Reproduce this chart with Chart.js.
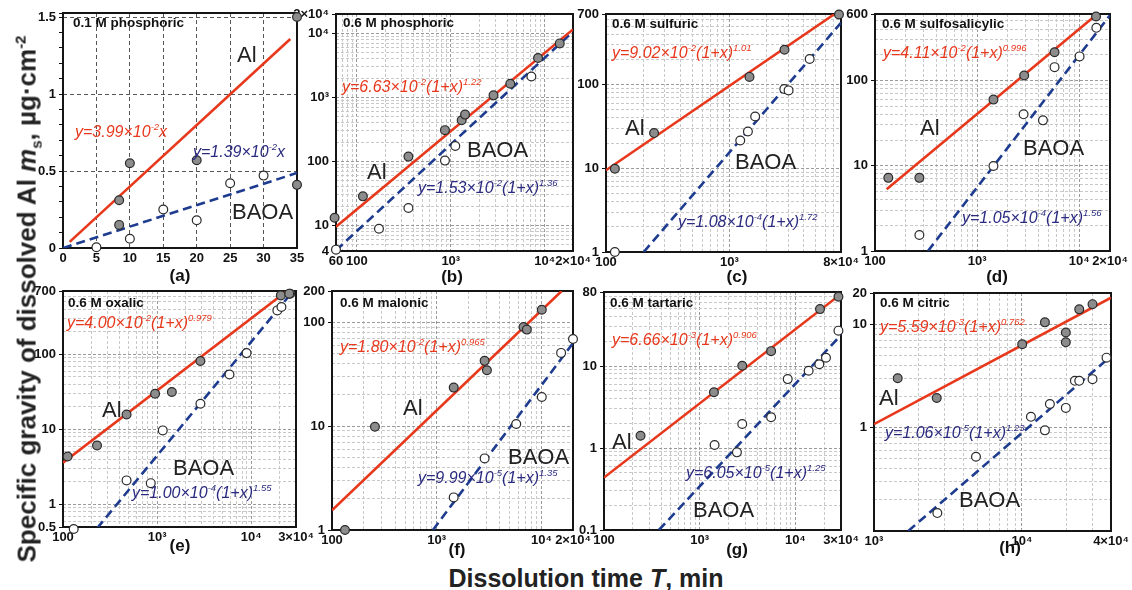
<!DOCTYPE html>
<html>
<head>
<meta charset="utf-8">
<script src="https://cdn.jsdelivr.net/npm/chart.js@4.4.1/dist/chart.umd.min.js"></script>
<style>
  body { margin: 0; background: #fff; width: 1132px; height: 590px; overflow: hidden; position: relative;
         font-family: "Liberation Sans", Arial, sans-serif; }
  canvas.p { position: absolute; }
  .t { position: absolute; white-space: nowrap; line-height: 1; color: #111; }
  .ttl { font-weight: bold; font-size: 13.5px; }
  .big { font-size: 22px; color: #222; }
  .eq { font-style: italic; font-size: 16px; }
  .eq sup { font-size: 9.5px; vertical-align: 0; position: relative; top: -7px; }
  .red { color: #e8381c; }
  .blue { color: #2a2a80; }
  .lab { font-weight: bold; font-size: 17px; transform: translate(-50%, -50%); }
  .axt { font-weight: bold; font-size: 25px; color: #222; }
  .axt sub { font-size: 15px; }
  .axt sup { font-size: 15px; }
</style>
</head>
<body>

<div class="t axt" style="left:586px;top:578px;transform:translate(-50%,-50%)">Dissolution time <i>T</i>, min</div>
<div class="t axt" style="left:28px;top:299px;font-size:26px;transform:translate(-50%,-50%) rotate(-90deg)">Specific gravity of dissolved Al <i>m</i><sub>s</sub>, µg·cm<sup>-2</sup></div>

<!-- (a) -->
<div class="t ttl" style="left:73px;top:16px">0.1 M phosphoric</div>
<div class="t big" style="left:237px;top:44px">Al</div>
<div class="t eq red" style="left:75px;top:124px">y=3.99×10<sup>-2</sup>x</div>
<div class="t eq blue" style="left:193px;top:144px">y=1.39×10<sup>-2</sup>x</div>
<div class="t big" style="left:232px;top:201px">BAOA</div>
<div class="t lab" style="left:180px;top:275px">(a)</div>
<!-- (b) -->
<div class="t ttl" style="left:343px;top:16px">0.6 M phosphoric</div>
<div class="t eq red" style="left:342px;top:79px">y=6.63×10<sup>-2</sup>(1+x)<sup>1.22</sup></div>
<div class="t big" style="left:367px;top:161px">Al</div>
<div class="t big" style="left:467px;top:139px">BAOA</div>
<div class="t eq blue" style="left:418px;top:180px">y=1.53×10<sup>-2</sup>(1+x)<sup>1.36</sup></div>
<div class="t lab" style="left:452px;top:276px">(b)</div>
<!-- (c) -->
<div class="t ttl" style="left:612px;top:17px">0.6 M sulfuric</div>
<div class="t eq red" style="left:612px;top:45px">y=9.02×10<sup>-2</sup>(1+x)<sup>1.01</sup></div>
<div class="t big" style="left:625px;top:117px">Al</div>
<div class="t big" style="left:735px;top:151px">BAOA</div>
<div class="t eq blue" style="left:678px;top:214px">y=1.08×10<sup>-4</sup>(1+x)<sup>1.72</sup></div>
<div class="t lab" style="left:737px;top:276px">(c)</div>
<!-- (d) -->
<div class="t ttl" style="left:882px;top:17px">0.6 M sulfosalicylic</div>
<div class="t eq red" style="left:883px;top:45px">y=4.11×10<sup>-2</sup>(1+x)<sup>0.996</sup></div>
<div class="t big" style="left:920px;top:117px">Al</div>
<div class="t big" style="left:1023px;top:137px">BAOA</div>
<div class="t eq blue" style="left:962px;top:210px">y=1.05×10<sup>-4</sup>(1+x)<sup>1.56</sup></div>
<div class="t lab" style="left:997px;top:276px">(d)</div>
<!-- (e) -->
<div class="t ttl" style="left:68px;top:296px">0.6 M oxalic</div>
<div class="t eq red" style="left:67px;top:315px">y=4.00×10<sup>-2</sup>(1+x)<sup>0.979</sup></div>
<div class="t big" style="left:102px;top:399px">Al</div>
<div class="t big" style="left:173px;top:457px">BAOA</div>
<div class="t eq blue" style="left:132px;top:485px">y=1.00×10<sup>-4</sup>(1+x)<sup>1.55</sup></div>
<div class="t lab" style="left:180px;top:545px">(e)</div>
<!-- (f) -->
<div class="t ttl" style="left:340px;top:296px">0.6 M malonic</div>
<div class="t eq red" style="left:340px;top:339px">y=1.80×10<sup>-2</sup>(1+x)<sup>0.965</sup></div>
<div class="t big" style="left:403px;top:397px">Al</div>
<div class="t big" style="left:508px;top:446px">BAOA</div>
<div class="t eq blue" style="left:418px;top:470px">y=9.99×10<sup>-5</sup>(1+x)<sup>1.35</sup></div>
<div class="t lab" style="left:457px;top:549px">(f)</div>
<!-- (g) -->
<div class="t ttl" style="left:610px;top:296px">0.6 M tartaric</div>
<div class="t eq red" style="left:612px;top:332px">y=6.66×10<sup>-3</sup>(1+x)<sup>0.906</sup></div>
<div class="t big" style="left:612px;top:431px">Al</div>
<div class="t big" style="left:693px;top:499px">BAOA</div>
<div class="t eq blue" style="left:686px;top:465px">y=6.05×10<sup>-5</sup>(1+x)<sup>1.25</sup></div>
<div class="t lab" style="left:737px;top:549px">(g)</div>
<!-- (h) -->
<div class="t ttl" style="left:880px;top:296px">0.6 M citric</div>
<div class="t eq red" style="left:880px;top:319px">y=5.59×10<sup>-3</sup>(1+x)<sup>0.762</sup></div>
<div class="t big" style="left:879px;top:387px">Al</div>
<div class="t big" style="left:959px;top:489px">BAOA</div>
<div class="t eq blue" style="left:885px;top:425px">y=1.06×10<sup>-5</sup>(1+x)<sup>1.23</sup></div>
<div class="t lab" style="left:1010px;top:547px">(h)</div>

<script>
// ---- values: [time, mass] pairs ----
// (a) 0.1 M phosphoric (linear axes)
const alA = [[8.4, 0.15], [8.4, 0.31], [10, 0.55], [20, 0.57], [35, 0.41], [35, 1.5]];
const baoaA = [[5, 0.005], [10, 0.06], [15, 0.25], [20, 0.18], [25, 0.42], [30, 0.47]];
const alFitA = [[1, 0.04], [34, 1.357]];
const baoaFitA = [[0, 0], [35, 0.487]];
// (b) 0.6 M phosphoric
const alB = [[58, 13.2], [116, 28.5], [354, 119], [867, 308], [1306, 440], [1419, 538],
             [2850, 1074], [4300, 1630], [8490, 4120], [14450, 6950]];
const baoaB = [[60, 4.2], [172, 8.9], [354, 18.8], [867, 103], [1117, 174], [7210, 2120]];
const alFitB = [[60, 9.6], [20000, 11500]];
const baoaFitB = [[60, 4.1], [20000, 10600]];
// (c) 0.6 M sulfuric
const alC = [[118, 9.9], [245, 26.4], [1452, 124], [2790, 262], [7700, 690]];
const baoaC = [[118, 1.0], [1222, 21.5], [1410, 27.6], [1614, 41.7], [2780, 88.8], [3010, 85.5], [4460, 203]];
const alFitC = [[100, 9.5], [7100, 700]];
const baoaFitC = [[202, 1], [8000, 550]];
// (d) 0.6 M sulfosalicylic
const alD = [[135, 7.2], [272, 7.2], [1445, 59.5], [2890, 114], [5730, 214], [14600, 560]];
const baoaD = [[272, 1.54], [1445, 9.9], [2850, 40], [4410, 34], [5730, 143], [10070, 191], [14700, 413]];
const alFitD = [[130, 5.3], [15000, 600]];
const baoaFitD = [[330, 1], [20000, 580]];
// (e) 0.6 M oxalic
const alE = [[112, 4.36], [230, 6.1], [474, 15.8], [953, 29.9], [1436, 31.5], [2890, 81.5], [20700, 612], [25400, 645]];
const baoaE = [[130, 0.47], [474, 2.09], [857, 1.92], [1150, 9.7], [2890, 22], [5890, 54], [8950, 104],
               [19000, 386], [21000, 428], [26000, 645]];
const alFitE = [[100, 3.6], [24000, 700]];
const baoaFitE = [[230, 0.48], [28000, 700]];
// (f) 0.6 M malonic
const alF = [[133, 1.0], [257, 9.85], [1452, 23.5], [2865, 42.5], [3015, 34.5], [6740, 90], [7250, 85], [10070, 132]];
const baoaF = [[1452, 2.06], [2865, 4.89], [5740, 10.5], [10070, 19.1], [15400, 50.7], [20000, 69]];
const alFitF = [[100, 1.55], [15600, 200]];
const baoaFitF = [[920, 1], [20000, 63]];
// (g) 0.6 M tartaric
const alG = [[241, 1.41], [1410, 4.78], [2785, 10.1], [5580, 15.2], [18100, 49.5], [28200, 70]];
const baoaG = [[1432, 1.09], [2450, 0.885], [2785, 1.96], [5580, 2.37], [8320, 6.93], [13770, 8.77],
               [17800, 10.5], [20900, 12.6], [28200, 27]];
const alFitG = [[100, 0.436], [30000, 75.8]];
const baoaFitG = [[375, 0.1], [30000, 23.9]];
// (h) 0.6 M citric
const alH = [[1446, 3.0], [2655, 1.93], [10040, 6.38], [14300, 10.4], [19800, 8.3], [19800, 6.67], [24400, 13.9], [30000, 15.6]];
const baoaH = [[2680, 0.149], [4890, 0.523], [11500, 1.27], [14300, 0.94], [15450, 1.69], [19800, 1.55],
               [22800, 2.83], [24400, 2.83], [30000, 2.94], [37300, 4.74]];
const alFitH = [[1000, 1.08], [40000, 18]];
const baoaFitH = [[1704, 0.1], [40000, 4.9]];

// ---- tick labels ----
const xTicksA = [0, 5, 10, 15, 20, 25, 30, 35];
const xLabelsA = ['0', '5', '10', '15', '20', '25', '30', '35'];
const yTicksA = [0, 0.5, 1, 1.5];
const yLabelsA = ['0', '0.5', '1', '1.5'];
const xTicksB = [60, 100, 1e3, 1e4, 2e4];
const xLabelsB = ['60', '100', '10³', '10⁴', '2×10⁴'];
const yTicksB = [4, 10, 100, 1e3, 1e4, 2e4];
const yLabelsB = ['4', '10', '100', '10³', '10⁴', '2×10⁴'];
const xTicksC = [100, 1e3, 8e3];
const xLabelsC = ['100', '10³', '8×10⁴'];
const yTicksC = [1, 10, 100, 700];
const yLabelsC = ['1', '10', '100', '700'];
const xTicksD = [100, 1e3, 1e4, 2e4];
const xLabelsD = ['100', '10³', '10⁴', '2×10⁴'];
const yTicksD = [1, 10, 100, 600];
const yLabelsD = ['1', '10', '100', '600'];
const xTicksE = [100, 1e3, 1e4, 3e4];
const xLabelsE = ['100', '10³', '10⁴', '3×10⁴'];
const yTicksE = [0.5, 1, 10, 100, 700];
const yLabelsE = ['0.5', '1', '10', '100', '700'];
const xTicksF = [100, 1e3, 1e4, 2e4];
const xLabelsF = ['100', '10³', '10⁴', '2×10⁴'];
const yTicksF = [1, 10, 100, 200];
const yLabelsF = ['1', '10', '100', '200'];
const xTicksG = [100, 1e3, 1e4, 3e4];
const xLabelsG = ['100', '10³', '10⁴', '3×10⁴'];
const yTicksG = [0.1, 1, 10, 80];
const yLabelsG = ['0.1', '1', '10', '80'];
const xTicksH = [1e3, 1e4, 4e4];
const xLabelsH = ['10³', '10⁴', '4×10⁴'];
const yTicksH = [1, 10, 20];
const yLabelsH = ['1', '10', '20'];

const RED = '#e8381c';
const BLUE = '#1d3b8f';
const FONT = '"Liberation Sans", Arial, sans-serif';
const ML = 46, MT = 12, MR = 28, MB = 22;

// plot-area rectangles on the page and axis ranges
const panels = [
  { l: 63, t: 13, r: 297, b: 248, log: false, xr: [0, 35], yr: [0, 1.526],
    al: alA, baoa: baoaA, alFit: alFitA, baoaFit: baoaFitA, xt: xTicksA, xl: xLabelsA, yt: yTicksA, yl: yLabelsA },
  { l: 336, t: 14, r: 573, b: 251, log: true, xr: [60, 2e4], yr: [4, 2e4],
    al: alB, baoa: baoaB, alFit: alFitB, baoaFit: baoaFitB, xt: xTicksB, xl: xLabelsB, yt: yTicksB, yl: yLabelsB },
  { l: 606, t: 14, r: 841, b: 252, log: true, xr: [100, 8e3], yr: [1, 700],
    al: alC, baoa: baoaC, alFit: alFitC, baoaFit: baoaFitC, xt: xTicksC, xl: xLabelsC, yt: yTicksC, yl: yLabelsC },
  { l: 875, t: 14, r: 1110, b: 251, log: true, xr: [100, 2e4], yr: [1, 600],
    al: alD, baoa: baoaD, alFit: alFitD, baoaFit: baoaFitD, xt: xTicksD, xl: xLabelsD, yt: yTicksD, yl: yLabelsD },
  { l: 63, t: 291, r: 296, b: 527, log: true, xr: [100, 3e4], yr: [0.5, 700],
    al: alE, baoa: baoaE, alFit: alFitE, baoaFit: baoaFitE, xt: xTicksE, xl: xLabelsE, yt: yTicksE, yl: yLabelsE },
  { l: 332, t: 291, r: 573, b: 530, log: true, xr: [100, 2e4], yr: [1, 200],
    al: alF, baoa: baoaF, alFit: alFitF, baoaFit: baoaFitF, xt: xTicksF, xl: xLabelsF, yt: yTicksF, yl: yLabelsF },
  { l: 604, t: 292, r: 841, b: 530, log: true, xr: [100, 3e4], yr: [0.1, 80],
    al: alG, baoa: baoaG, alFit: alFitG, baoaFit: baoaFitG, xt: xTicksG, xl: xLabelsG, yt: yTicksG, yl: yLabelsG },
  { l: 874, t: 293, r: 1111, b: 531, log: true, xr: [1e3, 4e4], yr: [0.1, 20],
    al: alH, baoa: baoaH, alFit: alFitH, baoaFit: baoaFitH, xt: xTicksH, xl: xLabelsH, yt: yTicksH, yl: yLabelsH }
];

const same = (a, b) => Math.abs(a - b) <= 1e-9 * Math.max(1, Math.abs(b));

// grid positions: 1..9 per decade for log axes, fixed steps for the linear panel
function gridValues(min, max, log, step) {
  const vals = [];
  if (log) {
    for (let e = Math.floor(Math.log10(min)); e <= Math.ceil(Math.log10(max)); e++) {
      for (let k = 1; k <= 9; k++) {
        const v = parseFloat((k * Math.pow(10, e)).toPrecision(6));
        if (v > min * 1.0001 && v < max * 0.9999) vals.push(v);
      }
    }
  } else {
    for (let v = min; v <= max + 1e-9; v += step) vals.push(Math.round(v * 100) / 100);
  }
  vals.unshift(min);
  if (!same(vals[vals.length - 1], max)) vals.push(max);
  return [...new Set(vals)];
}

function isDecade(v) {
  const e = Math.log10(v);
  return Math.abs(e - Math.round(e)) < 1e-9;
}

function axis(p, isX) {
  const [min, max] = isX ? p.xr : p.yr;
  const tv = isX ? p.xt : p.yt;
  const tl = isX ? p.xl : p.yl;
  const grid = gridValues(min, max, p.log, isX ? 5 : 0.1);
  const labelOf = v => {
    const i = tv.findIndex(t => same(v, t));
    return i >= 0 ? tl[i] : '';
  };
  return {
    type: p.log ? 'logarithmic' : 'linear',
    min, max,
    afterBuildTicks: s => { s.ticks = grid.map(v => ({ value: v })); },
    afterFit: s => { if (isX) s.height = MB; else s.width = ML; },
    ticks: {
      autoSkip: false, maxRotation: 0, minRotation: 0, padding: 3,
      color: '#111', font: { family: FONT, size: 13, weight: 'bold' },
      callback: v => labelOf(v)
    },
    grid: {
      drawTicks: !isX,
      tickLength: 4,
      lineWidth: 1,
      color: c => {
        const v = c.tick.value;
        if (same(v, min) || same(v, max)) return 'rgba(0,0,0,0)';
        if (!p.log) {
          if (!isX && Math.abs(v / 0.5 - Math.round(v / 0.5)) > 1e-6) return 'rgba(0,0,0,0)';
          return '#555';
        }
        return isDecade(v) ? '#9a9a9a' : '#c9c9c9';
      },
      tickColor: c => {
        const v = c.tick.value;
        if (!p.log) return '#111';
        return labelOf(v) ? '#111' : 'rgba(0,0,0,0)';
      }
    },
    border: { display: false, dash: p.log ? [3, 2] : [4, 3] }
  };
}

const framePlugin = {
  id: 'frame',
  beforeDatasetsDraw(chart) {
    const { ctx, chartArea: a } = chart;
    ctx.save();
    ctx.strokeStyle = '#151515';
    ctx.lineWidth = 2;
    ctx.strokeRect(a.left, a.top, a.right - a.left, a.bottom - a.top);
    ctx.restore();
  }
};

const toXY = arr => arr.map(([x, y]) => ({ x, y }));

panels.forEach(p => {
  const cv = document.createElement('canvas');
  const w = p.r - p.l + ML + MR, h = p.b - p.t + MT + MB;
  cv.className = 'p';
  cv.width = w; cv.height = h;
  cv.style.left = (p.l - ML) + 'px';
  cv.style.top = (p.t - MT) + 'px';
  cv.style.width = w + 'px';
  cv.style.height = h + 'px';
  document.body.insertBefore(cv, document.body.firstChild);

  new Chart(cv, {
    type: 'scatter',
    data: {
      datasets: [
        { data: toXY(p.alFit), showLine: true, borderColor: RED, borderWidth: 2.6, pointRadius: 0, order: 3 },
        { data: toXY(p.baoaFit), showLine: true, borderColor: BLUE, borderWidth: 2.6, borderDash: [9, 5], pointRadius: 0, order: 3 },
        { data: toXY(p.al), backgroundColor: '#8c8c8c', borderColor: '#2a2a2a', borderWidth: 1.2, pointRadius: 4.4, clip: false, order: 1 },
        { data: toXY(p.baoa), backgroundColor: '#ffffff', borderColor: '#2a2a2a', borderWidth: 1.2, pointRadius: 4.4, clip: false, order: 1 }
      ]
    },
    options: {
      responsive: false,
      animation: false,
      devicePixelRatio: 1,
      layout: { padding: { left: 0, top: MT, right: MR, bottom: 0 } },
      plugins: { legend: { display: false }, tooltip: { enabled: false } },
      scales: { x: axis(p, true), y: axis(p, false) }
    },
    plugins: [framePlugin]
  });
});
</script>
</body>
</html>
